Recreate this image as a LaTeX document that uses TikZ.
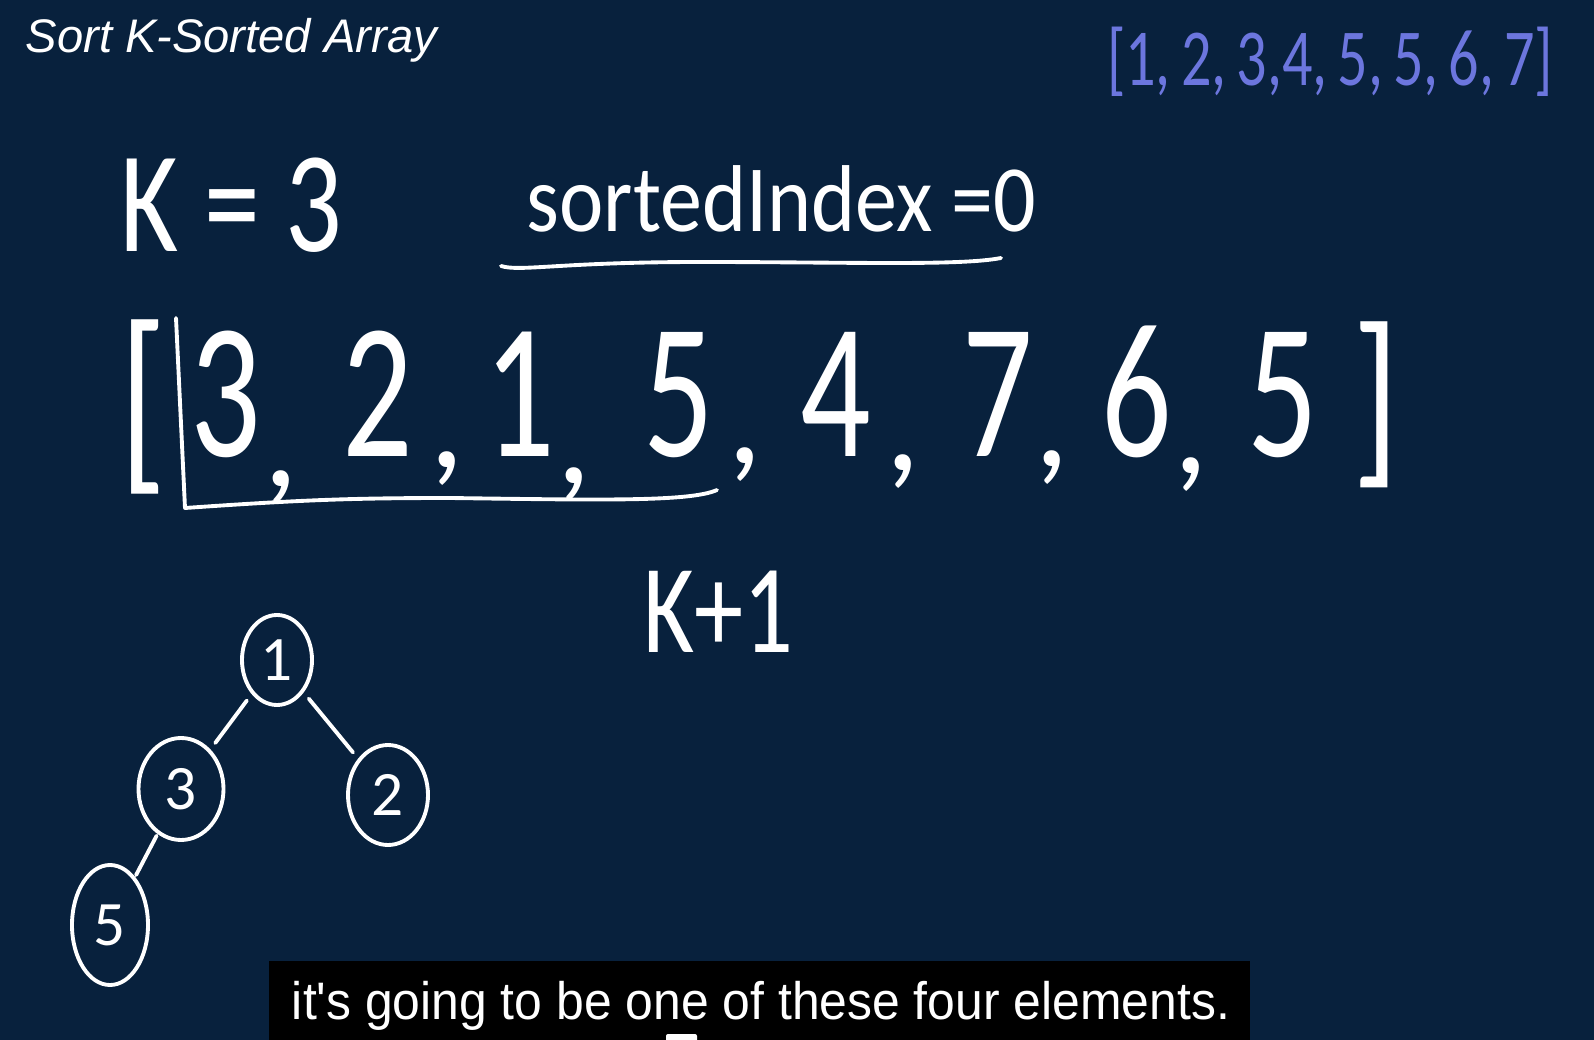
\documentclass[tikz,border=0pt]{standalone}
\usepackage{fontspec}
\usepackage{graphicx}
\usetikzlibrary{shapes.geometric}
\setmainfont{Liberation Sans}
\newfontfamily\handfont{Carlito}
\definecolor{boardbg}{RGB}{8,33,61}
\definecolor{penblue}{RGB}{108,118,222}
\newlength\hpx
\setlength\hpx{0.01cm}
\newcommand{\squeeze}[2]{\resizebox{#1\hpx}{\height}{#2}}
\newcommand{\handcomma}[2]{\rlap{\kern#1\hpx\raisebox{-#2\hpx}{\fontsize{40}{44}\selectfont,}}}
\tikzset{
  hand/.style={text=white, inner sep=0pt, font=\handfont},
  bigdigit/.style={hand, font=\handfont\fontsize{55}{60}\selectfont},
  pen/.style={draw=white, line width=1.1pt, line cap=round, line join=round},
  heapnode/.style={draw=white, line width=1.1pt, ellipse, inner sep=0pt, text=white, font=\handfont\fontsize{18}{18}\selectfont},
  heapedge/.style={pen, shorten <=8\hpx, shorten >=8\hpx}
}
\begin{document}
\begin{tikzpicture}[x=0.01cm, y=-0.01cm]
\fill[boardbg] (0,0) rectangle (1594,1040);
\useasboundingbox (0,0) rectangle (1594,1040);
\node[anchor=base west, inner sep=0pt, text=white, font=\itshape\fontsize{13.4}{16}\selectfont] (title) at (25,53) {Sort K-Sorted Array};
\node[hand, text=penblue, anchor=base, font=\handfont\fontsize{23}{23}\selectfont] (sorted) at (1330,86) {\squeeze{446}{[1,\,2,\,3,4,\,5,\,5,\,6,\,7]}};
\node[hand, anchor=base west, font=\handfont\fontsize{41}{44}\selectfont] (k) at (120,252) {\squeeze{221}{K = 3}};
\node[hand, anchor=base west, font=\handfont\fontsize{27}{30}\selectfont] (idx) at (526,232) {\squeeze{509}{sortedIndex =0}};
\draw[pen] (501,266) .. controls (520,272) and (560,262) .. (700,262) .. controls (850,262) and (960,266) .. (1001,258);
\node[bigdigit] (lb) at (143,407) {\scalebox{0.8}[1.05]{[}};
\node[bigdigit] (rb) at (1376,405) {\scalebox{0.8}[1]{]}};
\foreach \x/\v/\dx/\dy [count=\i] in {226/3/2/29, 378/2/16/11, 520/1/1/26, 679/5/13/6, 836/4/14/13, 998/7/1/9, 1137/6/1/16}
  \node[bigdigit, anchor=base] (a\i) at (\x,457) {\scalebox{0.72}[1]{\v}\handcomma{\dx}{\dy}};
\node[bigdigit, anchor=base] (a8) at (1283,457) {\scalebox{0.72}[1]{5}};
\draw[pen] (176,318) -- (185,508) .. controls (300,500) and (350,498) .. (450,498) .. controls (600,500) and (690,502) .. (717,490);
\node[hand, anchor=base west, font=\handfont\fontsize{36}{40}\selectfont] (kplus) at (643,652) {\squeeze{150}{K+1}};
\node[heapnode, minimum width=70\hpx, minimum height=90\hpx] (h1) at (277,660) {1};
\node[heapnode, minimum width=85\hpx, minimum height=102\hpx] (h3) at (181,789) {3};
\node[heapnode, minimum width=80\hpx, minimum height=100\hpx] (h2) at (388,795) {2};
\node[heapnode, minimum width=76\hpx, minimum height=120\hpx] (h5) at (110,925) {5};
\draw[heapedge] (h1) -- (h3);
\draw[heapedge] (h1) -- (h2);
\draw[heapedge, shorten <=2\hpx, shorten >=2\hpx] (h3) -- (h5);
\node[fill=black, inner sep=0pt, minimum width=981\hpx, minimum height=79\hpx] (capbox) at (759.5,1000.5) {};
\node[anchor=base, inner sep=0pt, text=white, font=\fontsize{15}{18}\selectfont] (caption) at (761,1019) {\squeeze{938}{it\textquotesingle s going to be one of these four elements.}};
\fill[white, rounded corners=2\hpx] (666,1034) rectangle (697,1046);
\end{tikzpicture}
\end{document}
